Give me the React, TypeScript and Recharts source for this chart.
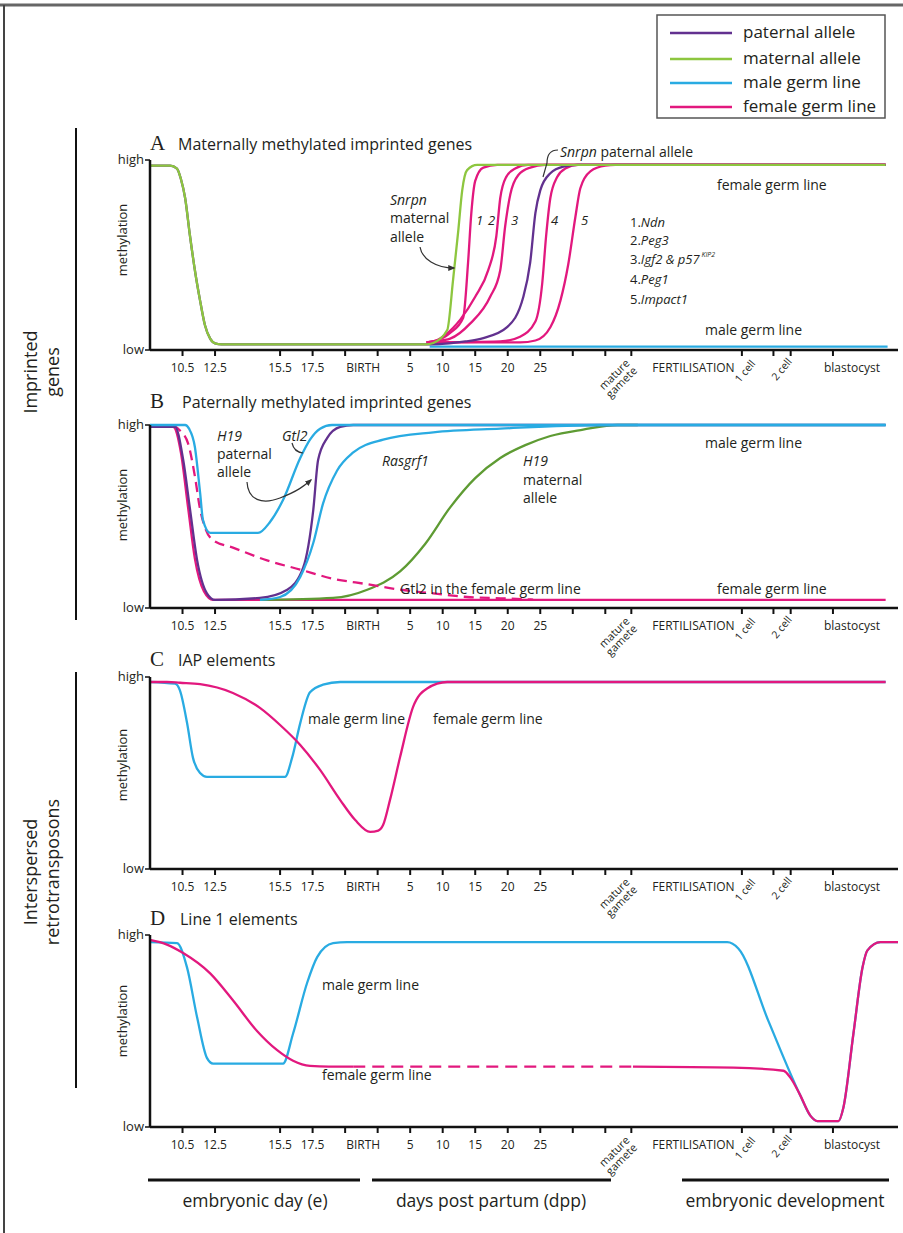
import { LineChart, Line, XAxis, YAxis } from "recharts";

const FONT = "'Open Sans', 'Noto Sans', sans-serif";
const INK = "#231f20";

const PATERNAL = "#62318f";
const MATERNAL = "#8dc63f";
const MATERNAL_DARK = "#5e9b33";
const MALE = "#29abe2";
const FEMALE = "#e2187e";

// x = developmental stage position (one unit per tick step), y = methylation (0 low .. 1 high)
const STAGE_TICKS = [1, 2, 4, 5, 6, 7, 8, 9, 10, 11, 12, 13, 14, 14.8, 18.2, 19.17, 19.7, 21];
const STAGE_LABELS = ["10.5", "12.5", "15.5", "17.5", "BIRTH", "", "5", "10", "15", "20", "25", "", "", "mature gamete", "1 cell", "2 cell", "", "blastocyst"];

// A. Maternally methylated imprinted genes
const A_MATERNAL = [[0, 0.97], [0.62, 0.97], [0.83, 0.955], [0.95, 0.9], [1.08, 0.8], [1.23, 0.6], [1.38, 0.42], [1.54, 0.26], [1.69, 0.13], [1.85, 0.06], [2, 0.035], [2.2, 0.03], [8.5, 0.03], [8.71, 0.037], [9.14, 0.105], [9.32, 0.37], [9.48, 0.63], [9.6, 0.84], [9.75, 0.947], [10.06, 0.974], [22.62, 0.974]];
const A_PATERNAL = [[0, 0.97], [0.62, 0.97], [0.83, 0.955], [0.95, 0.9], [1.08, 0.8], [1.23, 0.6], [1.38, 0.42], [1.54, 0.26], [1.69, 0.13], [1.85, 0.06], [2, 0.035], [2.2, 0.03], [8.6, 0.03], [9.2, 0.035], [9.7, 0.045], [10.25, 0.063], [10.98, 0.12], [11.48, 0.28], [11.69, 0.46], [11.85, 0.72], [12, 0.84], [12.31, 0.93], [12.71, 0.965], [13.14, 0.974], [22.62, 0.974]];
const A_NDN = [[8.5, 0.04], [8.71, 0.045], [9.23, 0.09], [9.63, 0.17], [9.78, 0.46], [9.88, 0.72], [10, 0.89], [10.25, 0.96], [10.68, 0.974], [22.62, 0.974]];
const A_PEG3 = [[8.5, 0.04], [8.71, 0.045], [9.08, 0.08], [9.54, 0.16], [10, 0.28], [10.4, 0.42], [10.65, 0.6], [10.77, 0.8], [10.95, 0.91], [11.23, 0.955], [11.63, 0.974], [22.62, 0.974]];
const A_IGF2 = [[8.5, 0.04], [8.71, 0.045], [9.23, 0.06], [9.85, 0.14], [10.46, 0.28], [10.77, 0.42], [10.92, 0.65], [11.08, 0.82], [11.32, 0.92], [11.69, 0.96], [12.15, 0.974], [22.62, 0.974]];
const A_PEG1 = [[8.6, 0.04], [10.77, 0.045], [11.38, 0.07], [11.85, 0.15], [12.06, 0.35], [12.18, 0.6], [12.31, 0.8], [12.52, 0.91], [12.77, 0.955], [13.17, 0.974], [22.62, 0.974]];
const A_IMPACT1 = [[8.6, 0.04], [11.38, 0.04], [11.85, 0.05], [12.31, 0.12], [12.62, 0.26], [12.86, 0.45], [13.08, 0.7], [13.23, 0.85], [13.54, 0.94], [14, 0.97], [14.31, 0.974], [22.62, 0.974]];
const A_MALE = [[8.6, 0.018], [22.68, 0.018]];

// B. Paternally methylated imprinted genes
const B_MALE_GTL2 = [[0, 1], [1.08, 1], [1.2, 0.98], [1.38, 0.88], [1.54, 0.63], [1.63, 0.48], [1.85, 0.41], [3.32, 0.41], [3.69, 0.47], [4.09, 0.59], [4.62, 0.82], [4.92, 0.92], [5.23, 0.98], [5.6, 1], [22.62, 1]];
const B_MALE_RASGRF1 = [[3.38, 0.044], [4, 0.06], [4.62, 0.17], [5.02, 0.355], [5.32, 0.57], [5.75, 0.75], [6.25, 0.85], [7.17, 0.92], [8.71, 0.96], [10.77, 0.98], [13.85, 1], [22.62, 1]];
const B_PATERNAL_H19 = [[0, 0.99], [0.77, 0.99], [1.02, 0.81], [1.23, 0.54], [1.45, 0.26], [1.75, 0.08], [2, 0.044], [3.38, 0.055], [4.22, 0.1], [4.71, 0.22], [5.02, 0.535], [5.17, 0.81], [5.45, 0.93], [5.85, 0.99], [6.25, 1], [22.62, 1]];
const B_FEMALE = [[0, 0.99], [0.71, 0.99], [0.95, 0.85], [1.17, 0.55], [1.38, 0.27], [1.66, 0.09], [1.94, 0.044], [22.62, 0.044]];
const B_FEMALE_GTL2 = [[0.7, 1], [0.92, 0.97], [1.17, 0.9], [1.38, 0.72], [1.54, 0.54], [1.69, 0.44], [1.94, 0.37], [2.55, 0.33], [3.6, 0.26], [4.62, 0.21], [5.63, 0.16], [6.68, 0.13], [7.69, 0.1], [8.71, 0.08], [9.75, 0.06], [10.77, 0.053], [11.78, 0.046]];
const B_MATERNAL_H19 = [[3.38, 0.044], [5.63, 0.055], [6.68, 0.1], [7.69, 0.2], [8.46, 0.35], [9.23, 0.55], [10, 0.71], [10.77, 0.82], [11.54, 0.89], [12.31, 0.94], [13.32, 0.975], [14.37, 1], [15, 1]];

// C. IAP elements
const C_MALE = [[0, 0.974], [0.77, 0.965], [0.92, 0.93], [1.14, 0.76], [1.32, 0.58], [1.54, 0.5], [1.75, 0.48], [4.15, 0.48], [4.37, 0.58], [4.62, 0.76], [4.92, 0.92], [5.32, 0.96], [5.85, 0.974], [22.62, 0.974]];
const C_FEMALE = [[0, 0.974], [0.52, 0.974], [0.92, 0.97], [1.54, 0.963], [2.55, 0.917], [3.38, 0.839], [4, 0.75], [4.62, 0.646], [5.23, 0.516], [5.85, 0.359], [6.31, 0.255], [6.77, 0.193], [7.02, 0.2], [7.17, 0.23], [7.38, 0.36], [7.69, 0.583], [8.09, 0.844], [8.52, 0.94], [9.14, 0.974], [22.62, 0.974]];

// D. Line 1 elements
const D_MALE = [[0, 0.963], [0.83, 0.958], [1.14, 0.83], [1.45, 0.57], [1.75, 0.36], [1.94, 0.33], [4.09, 0.33], [4.4, 0.487], [4.83, 0.75], [5.14, 0.885], [5.63, 0.958], [6.06, 0.963], [17.75, 0.963], [18.09, 0.93], [19.02, 0.55], [19.98, 0.17], [20.31, 0.058], [20.52, 0.031], [21.17, 0.031], [21.32, 0.1], [21.63, 0.487], [21.91, 0.832], [22.06, 0.92], [22.46, 0.963], [23, 0.963]];
const D_FEMALE_EARLY = [[0, 0.974], [0.52, 0.95], [1.02, 0.906], [1.85, 0.8], [2.55, 0.66], [3.29, 0.5], [3.91, 0.4], [4.4, 0.345], [4.92, 0.318], [5.5, 0.314], [6.25, 0.314]];
const D_FEMALE_GAP = [[6.25, 0.314], [14.85, 0.314]];
const D_FEMALE_LATE = [[14.85, 0.314], [17.94, 0.309], [19.48, 0.293], [19.69, 0.257], [19.98, 0.17], [20.31, 0.058], [20.52, 0.031], [21.17, 0.031], [21.32, 0.1], [21.63, 0.487], [21.91, 0.832], [22.06, 0.92], [22.46, 0.963], [23, 0.963]];

const pts = (arr: number[][]) => arr.map(([x, y]) => ({ x, y }));

type Series = { name: string; data: number[][]; color: string; dash?: string };

function StageTick(props: any) {
  const { x, y, payload } = props;
  const i = STAGE_TICKS.findIndex((t) => Math.abs(t - payload.value) < 0.001);
  const label = STAGE_LABELS[i];
  const base = { fontFamily: FONT, fontSize: 12, fill: INK };
  if (!label) return <g />;
  if (label === "BIRTH") {
    return <text x={x + 1} y={y + 14} textAnchor="start" {...base}>BIRTH</text>;
  }
  if (label === "mature gamete") {
    return (
      <g>
        <g transform={`translate(${x - 1},${y + 6}) rotate(-45)`}>
          <text textAnchor="end" {...base} fontSize={11}>mature</text>
          <text y={10.5} textAnchor="end" {...base} fontSize={11}>gamete</text>
        </g>
        <text x={x + 21} y={y + 14} textAnchor="start" {...base}>FERTILISATION</text>
      </g>
    );
  }
  if (label === "1 cell") {
    return (
      <g transform={`translate(${x + 14},${y + 6}) rotate(-50)`}>
        <text textAnchor="end" {...base} fontSize={10.5}>1 cell</text>
      </g>
    );
  }
  if (label === "2 cell") {
    return (
      <g transform={`translate(${x + 19},${y + 4}) rotate(-50)`}>
        <text textAnchor="end" {...base} fontSize={10.5}>2 cell</text>
      </g>
    );
  }
  if (label === "blastocyst") {
    return <text x={x + 19} y={y + 14} textAnchor="middle" {...base}>blastocyst</text>;
  }
  return <text x={x} y={y + 14} textAnchor="middle" {...base}>{label}</text>;
}

function LevelTick(props: any) {
  const { x, y, payload } = props;
  return (
    <text x={x} y={y + 4} textAnchor="end" fontFamily={FONT} fontSize={13} fill={INK}>
      {payload.value === 1 ? "high" : "low"}
    </text>
  );
}

function Panel({ top, height, highY, axisY, series }: { top: number; height: number; highY: number; axisY: number; series: Series[] }) {
  return (
    <div style={{ position: "absolute", left: 0, top }}>
      <LineChart width={903} height={height} margin={{ top: highY - top, right: 5, bottom: 0, left: 0 }}>
        <XAxis
          dataKey="x"
          type="number"
          domain={[0, 23]}
          ticks={STAGE_TICKS}
          interval={0}
          tick={(p: any) => <StageTick {...p} />}
          tickSize={6}
          height={top + height - axisY}
          axisLine={{ stroke: "#111", strokeWidth: 2.5 }}
          tickLine={{ stroke: "#111", strokeWidth: 2 }}
        />
        <YAxis
          type="number"
          domain={[0, 1]}
          ticks={[0, 1]}
          interval={0}
          width={150}
          tickSize={5}
          tickMargin={1}
          tick={(p: any) => <LevelTick {...p} />}
          axisLine={{ stroke: "#111", strokeWidth: 2.5 }}
          tickLine={{ stroke: "#111", strokeWidth: 1.5 }}
        />
        {series.map((s) => (
          <Line
            key={s.name}
            name={s.name}
            data={pts(s.data)}
            dataKey="y"
            type="monotone"
            stroke={s.color}
            strokeWidth={2.3}
            strokeDasharray={s.dash}
            dot={false}
            activeDot={false}
            isAnimationActive={false}
          />
        ))}
      </LineChart>
    </div>
  );
}

const T = { fontFamily: FONT, fill: INK };

function Overlay() {
  const legend = [
    { label: "paternal allele", color: PATERNAL, y: 33 },
    { label: "maternal allele", color: MATERNAL, y: 59 },
    { label: "male germ line", color: MALE, y: 83 },
    { label: "female germ line", color: FEMALE, y: 107 },
  ];
  const titles = [
    { letter: "A", text: "Maternally methylated imprinted genes", y: 150, tx: 178 },
    { letter: "B", text: "Paternally methylated imprinted genes", y: 408, tx: 182 },
    { letter: "C", text: "IAP elements", y: 666, tx: 178 },
    { letter: "D", text: "Line 1 elements", y: 925, tx: 180 },
  ];
  const methY = [240, 505, 765, 1021];
  return (
    <svg width={903} height={1233} style={{ position: "absolute", left: 0, top: 0, pointerEvents: "none" }}>
      <defs>
        <marker id="ah" viewBox="0 0 10 10" refX="8" refY="5" markerWidth="6" markerHeight="6" orient="auto">
          <path d="M0,1 L10,5 L0,9 z" fill="#333" />
        </marker>
      </defs>
      <line x1={0} y1={5} x2={903} y2={5} stroke="#666" strokeWidth={3} />
      <line x1={4} y1={5} x2={4} y2={1233} stroke="#444" strokeWidth={2} />

      <rect x={657} y={15} width={228} height={103} fill="#fff" stroke="#555" strokeWidth={1.5} />
      {legend.map((l) => (
        <g key={l.label}>
          <line x1={670} x2={732} y1={l.y} y2={l.y} stroke={l.color} strokeWidth={2.5} />
          <text x={743} y={l.y + 5} fontSize={17} {...T}>{l.label}</text>
        </g>
      ))}

      <line x1={76} y1={128} x2={76} y2={620} stroke="#111" strokeWidth={2} />
      <text transform="translate(37,372) rotate(-90)" textAnchor="middle" fontSize={18} {...T}>Imprinted</text>
      <text transform="translate(59,372) rotate(-90)" textAnchor="middle" fontSize={18} {...T}>genes</text>
      <line x1={76} y1={672} x2={76} y2={1088} stroke="#111" strokeWidth={2} />
      <text transform="translate(37,872) rotate(-90)" textAnchor="middle" fontSize={18} {...T}>Interspersed</text>
      <text transform="translate(59,872) rotate(-90)" textAnchor="middle" fontSize={18} {...T}>retrotransposons</text>

      {titles.map((t) => (
        <g key={t.letter}>
          <text x={150} y={t.y} fontSize={21} fontFamily="'Liberation Serif', serif" fill={INK}>{t.letter}</text>
          <text x={t.tx} y={t.y} fontSize={16} {...T}>{t.text}</text>
        </g>
      ))}
      {methY.map((y) => (
        <text key={y} transform={`translate(127,${y}) rotate(-90)`} textAnchor="middle" fontSize={13} {...T}>methylation</text>
      ))}

      {/* panel A notes */}
      <text x={390} y={205} fontSize={14} fontStyle="italic" {...T}>Snrpn</text>
      <text x={390} y={223} fontSize={14} {...T}>maternal</text>
      <text x={390} y={242} fontSize={14} {...T}>allele</text>
      <path d="M420,247 C422,259 436,268 454,268" fill="none" stroke="#333" strokeWidth={1.2} markerEnd="url(#ah)" />
      {[["1", 476], ["2", 488], ["3", 511], ["4", 551], ["5", 581]].map(([n, x]) => (
        <text key={n} x={x as number} y={225} fontSize={13} fontStyle="italic" {...T}>{n}</text>
      ))}
      <text x={560} y={157} fontSize={14} {...T}><tspan fontStyle="italic">Snrpn</tspan> paternal allele</text>
      <path d="M558,150 C550,150 547,155 547,163 L543,177" fill="none" stroke="#333" strokeWidth={1.2} />
      <text x={717} y={190} fontSize={14} {...T}>female germ line</text>
      <text x={705} y={335} fontSize={14} {...T}>male germ line</text>
      <text x={630} y={227} fontSize={13} {...T}>1.<tspan fontStyle="italic">Ndn</tspan></text>
      <text x={630} y={245} fontSize={13} {...T}>2.<tspan fontStyle="italic">Peg3</tspan></text>
      <text x={630} y={264} fontSize={13} {...T}>3.<tspan fontStyle="italic">Igf2 &amp; p57</tspan><tspan fontSize={7} dy={-7} fontStyle="italic"> KIP2</tspan></text>
      <text x={630} y={284} fontSize={13} {...T}>4.<tspan fontStyle="italic">Peg1</tspan></text>
      <text x={630} y={304} fontSize={13} {...T}>5.<tspan fontStyle="italic">Impact1</tspan></text>

      {/* panel B notes */}
      <text x={217} y={441} fontSize={14} fontStyle="italic" {...T}>H19</text>
      <text x={217} y={459} fontSize={14} {...T}>paternal</text>
      <text x={217} y={477} fontSize={14} {...T}>allele</text>
      <path d="M247,482 C248,500 262,505 280,498 S304,486 311,480" fill="none" stroke="#333" strokeWidth={1.2} markerEnd="url(#ah)" />
      <text x={282} y={441} fontSize={14} fontStyle="italic" {...T}>Gtl2</text>
      <path d="M292,443 Q294,452 303,453" fill="none" stroke="#333" strokeWidth={1.2} />
      <text x={382} y={466} fontSize={14} fontStyle="italic" {...T}>Rasgrf1</text>
      <text x={523} y={466} fontSize={14} fontStyle="italic" {...T}>H19</text>
      <text x={523} y={485} fontSize={14} {...T}>maternal</text>
      <text x={523} y={503} fontSize={14} {...T}>allele</text>
      <text x={705} y={448} fontSize={14} {...T}>male germ line</text>
      <text x={400} y={594} fontSize={14} {...T}>Gtl2 in the female germ line</text>
      <text x={717} y={594} fontSize={14} {...T}>female germ line</text>

      {/* panel C notes */}
      <text x={308} y={724} fontSize={14} {...T}>male germ line</text>
      <text x={433} y={724} fontSize={14} {...T}>female germ line</text>

      {/* panel D notes */}
      <text x={322} y={990} fontSize={14} {...T}>male germ line</text>
      <text x={322} y={1080} fontSize={14} {...T}>female germ line</text>

      <line x1={148} x2={360} y1={1180} y2={1180} stroke="#111" strokeWidth={3} />
      <line x1={372} x2={611} y1={1180} y2={1180} stroke="#111" strokeWidth={3} />
      <line x1={682} x2={889} y1={1180} y2={1180} stroke="#111" strokeWidth={3} />
      <text x={255} y={1207} textAnchor="middle" fontSize={17.5} {...T}>embryonic day (e)</text>
      <text x={491} y={1207} textAnchor="middle" fontSize={17.5} {...T}>days post partum (dpp)</text>
      <text x={785} y={1207} textAnchor="middle" fontSize={17.5} {...T}>embryonic development</text>
    </svg>
  );
}

export default function App() {
  const panelA: Series[] = [
    { name: "A male", data: A_MALE, color: MALE },
    { name: "A Ndn", data: A_NDN, color: FEMALE },
    { name: "A Peg3", data: A_PEG3, color: FEMALE },
    { name: "A Igf2", data: A_IGF2, color: FEMALE },
    { name: "A Peg1", data: A_PEG1, color: FEMALE },
    { name: "A Impact1", data: A_IMPACT1, color: FEMALE },
    { name: "A paternal", data: A_PATERNAL, color: PATERNAL },
    { name: "A maternal", data: A_MATERNAL, color: MATERNAL },
  ];
  const panelB: Series[] = [
    { name: "B female", data: B_FEMALE, color: FEMALE },
    { name: "B maternal H19", data: B_MATERNAL_H19, color: MATERNAL_DARK },
    { name: "B female Gtl2", data: B_FEMALE_GTL2, color: FEMALE, dash: "10 6" },
    { name: "B paternal H19", data: B_PATERNAL_H19, color: PATERNAL },
    { name: "B Rasgrf1", data: B_MALE_RASGRF1, color: MALE },
    { name: "B male Gtl2", data: B_MALE_GTL2, color: MALE },
  ];
  const panelC: Series[] = [
    { name: "C male", data: C_MALE, color: MALE },
    { name: "C female", data: C_FEMALE, color: FEMALE },
  ];
  const panelD: Series[] = [
    { name: "D male", data: D_MALE, color: MALE },
    { name: "D female early", data: D_FEMALE_EARLY, color: FEMALE },
    { name: "D female gap", data: D_FEMALE_GAP, color: FEMALE, dash: "12 7" },
    { name: "D female late", data: D_FEMALE_LATE, color: FEMALE },
  ];
  return (
    <div style={{ position: "absolute", left: 0, top: 0, width: 903, height: 1233, background: "#fff", overflow: "hidden" }}>
      <Panel top={150} height={265} highY={160} axisY={350} series={panelA} />
      <Panel top={415} height={260} highY={425} axisY={608} series={panelB} />
      <Panel top={667} height={262} highY={677} axisY={869} series={panelC} />
      <Panel top={925} height={262} highY={935} axisY={1127} series={panelD} />
      <Overlay />
    </div>
  );
}
